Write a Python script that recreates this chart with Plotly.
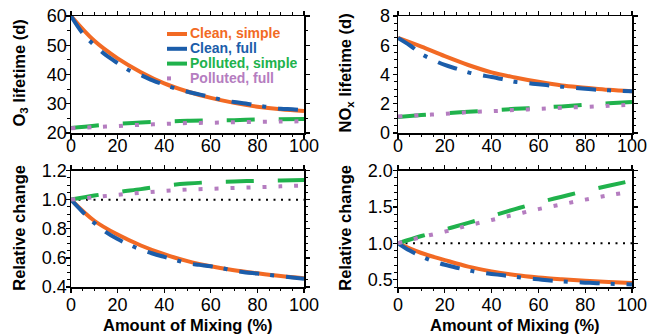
import plotly.graph_objects as go

# ---------------- data ----------------
mix = [0, 10, 20, 30, 40, 50, 60, 70, 80, 90, 100]
mix_fine = [0, 5, 10, 15, 20, 25, 30, 35, 40, 45, 50, 55, 60, 65, 70, 75, 80, 85, 90, 95, 100]

o3_clean_simple = [60, 51.5, 45.5, 40.8, 37.0, 34.2, 32.0, 30.3, 29.0, 28.1, 27.5]
o3_clean_full = [60, 54.1, 50.0, 46.6, 43.9, 41.4, 39.8, 38.0, 36.5, 35.2, 34.1,
                 33.2, 32.3, 31.3, 30.6, 30.1, 29.4, 28.8, 28.3, 28.1, 27.8]
o3_poll_simple = [21.7, 22.5, 23.1, 23.6, 23.9, 24.2, 24.3, 24.4, 24.6, 24.7, 24.8]
o3_poll_full = [21.6, 22.0, 22.4, 22.8, 23.1, 23.4, 23.5, 23.7, 23.8, 23.9, 24.0]

nox_clean_simple = [6.5, 5.9, 5.25, 4.65, 4.15, 3.8, 3.5, 3.25, 3.1, 2.95, 2.85]
nox_clean_full = [6.5, 6.0, 5.4, 5.0, 4.65, 4.4, 4.15, 3.97, 3.83, 3.67, 3.5,
                  3.42, 3.33, 3.25, 3.17, 3.09, 3.02, 2.96, 2.92, 2.88, 2.85]
nox_poll_simple = [1.1, 1.23, 1.35, 1.45, 1.55, 1.65, 1.73, 1.82, 1.93, 2.03, 2.12]
nox_poll_full = [1.12, 1.22, 1.31, 1.42, 1.49, 1.57, 1.65, 1.73, 1.78, 1.86, 1.93]

rel_o3_clean_simple = [1, 0.855, 0.76, 0.685, 0.625, 0.578, 0.543, 0.515, 0.494, 0.475, 0.46]
rel_o3_clean_full = [1, 0.915, 0.84, 0.777, 0.729, 0.69, 0.657, 0.63, 0.607, 0.585, 0.563,
                     0.552, 0.542, 0.528, 0.512, 0.5, 0.493, 0.484, 0.474, 0.465, 0.457]
rel_o3_poll_simple = [1.0, 1.028, 1.052, 1.072, 1.095, 1.11, 1.12, 1.125, 1.129, 1.131, 1.134]
rel_o3_poll_full = [1.0, 1.017, 1.033, 1.047, 1.059, 1.069, 1.074, 1.08, 1.085, 1.091, 1.097]

rel_nox_clean_simple = [1, 0.867, 0.77, 0.68, 0.615, 0.565, 0.53, 0.505, 0.485, 0.468, 0.455]
rel_nox_clean_full = [1, 0.9, 0.82, 0.755, 0.705, 0.665, 0.63, 0.6, 0.58, 0.56, 0.54,
                      0.52, 0.505, 0.49, 0.478, 0.468, 0.46, 0.452, 0.445, 0.44, 0.436]
rel_nox_poll_simple = [1.0, 1.10, 1.19, 1.28, 1.375, 1.47, 1.56, 1.64, 1.72, 1.79, 1.86]
rel_nox_poll_full = [1.0, 1.085, 1.16, 1.245, 1.32, 1.395, 1.47, 1.535, 1.60, 1.66, 1.71]

series_names = ["Clean, simple", "Clean, full", "Polluted, simple", "Polluted, full"]
colors = ["#F26A24", "#1B5DAA", "#20B24C", "#B57DC0"]
dashes = ["solid", "20px,11px,4px,12px", "28px,24px", "4px,12px"]

y_titles = ["O<sub>3</sub> lifetime (d)", "NO<sub>x</sub> lifetime (d)", "Relative change", "Relative change"]
x_title = "Amount of Mixing (%)"

FONT = "Liberation Sans, Arial, Helvetica, sans-serif"
W, H = 652, 335


def px_x(v):
    return v / W


def px_y(v):
    return 1 - v / H


panels = [
    (mix, o3_clean_simple, mix_fine, o3_clean_full, mix, o3_poll_simple, mix, o3_poll_full),
    (mix, nox_clean_simple, mix_fine, nox_clean_full, mix, nox_poll_simple, mix, nox_poll_full),
    (mix, rel_o3_clean_simple, mix_fine, rel_o3_clean_full, mix, rel_o3_poll_simple, mix, rel_o3_poll_full),
    (mix, rel_nox_clean_simple, mix_fine, rel_nox_clean_full, mix, rel_nox_poll_simple, mix, rel_nox_poll_full),
]
y_ranges = [[20, 60], [0, 8], [0.4, 1.2], [0.4, 2.0]]
y_dticks = [10, 2, 0.2, 0.5]
y_minor = [5, 0.5, 0.05, 0.1]
y_formats = ["", "", ".1f", ".1f"]
x_label_standoff = [-8, -8, -3, -3]
y_label_standoff = [-5, -1, -5, -4]

# pixel boxes of the four plot areas (left, right, top, bottom) in window pixels
boxes = [(71, 304, 16, 133), (398, 632, 16, 133), (71, 304, 170.5, 287), (398, 632, 170.5, 287)]
ytitle_x = [19, 345, 19, 345]

fig = go.Figure()

for i, p in enumerate(panels):
    xa = "x" if i == 0 else f"x{i+1}"
    ya = "y" if i == 0 else f"y{i+1}"
    for k in range(4):
        xs, ys = p[2 * k], p[2 * k + 1]
        fig.add_trace(go.Scatter(
            x=xs, y=ys, mode="lines", name=series_names[k], showlegend=False,
            line=dict(color=colors[k], width=4, dash=dashes[k], shape="spline", smoothing=1),
            xaxis=xa, yaxis=ya, hoverinfo="skip"))

axis_common = dict(showline=True, linecolor="black", linewidth=1.5, showgrid=False,
                   zeroline=False, ticks="outside", ticklen=4, tickwidth=1.3, tickcolor="black",
                   mirror="allticks", automargin=False, ticklabeloverflow="allow",
                   tickfont=dict(family=FONT, size=18, color="black"))
overlay_common = dict(showline=False, showgrid=False, zeroline=False, ticks="inside", ticklen=4,
                      tickwidth=1.3, tickcolor="black", mirror="allticks", showticklabels=False)

layout = dict(width=W, height=H, margin=dict(l=0, r=0, t=0, b=0),
              plot_bgcolor="white", paper_bgcolor="white", showlegend=False,
              font=dict(family=FONT, color="black"))

shapes = []
annotations = []
for i, (l, r, t, b) in enumerate(boxes):
    n = "" if i == 0 else str(i + 1)
    dom_x = [px_x(l), px_x(r)]
    dom_y = [px_y(b), px_y(t)]
    xa = dict(axis_common, domain=dom_x, range=[0, 100], dtick=20, anchor=f"y{n}",
              ticklabelstandoff=x_label_standoff[i],
              minor=dict(dtick=5, ticks="outside", ticklen=2.5, tickwidth=1, tickcolor="black"))
    ya = dict(axis_common, domain=dom_y, range=y_ranges[i], dtick=y_dticks[i], anchor=f"x{n}",
              tickformat=y_formats[i], ticklabelstandoff=y_label_standoff[i],
              minor=dict(dtick=y_minor[i], ticks="outside", ticklen=2.5, tickwidth=1, tickcolor="black"))
    layout[f"xaxis{n}"] = xa
    layout[f"yaxis{n}"] = ya
    m = str(i + 5)
    layout[f"xaxis{m}"] = dict(overlay_common, overlaying=f"x{n}", anchor=f"y{n}", range=[0, 100], dtick=20,
                               minor=dict(dtick=5, ticks="inside", ticklen=2.5, tickwidth=1, tickcolor="black"))
    layout[f"yaxis{m}"] = dict(overlay_common, overlaying=f"y{n}", anchor=f"x{n}", range=y_ranges[i],
                               dtick=y_dticks[i],
                               minor=dict(dtick=y_minor[i], ticks="inside", ticklen=2.5, tickwidth=1, tickcolor="black"))
    # axis titles
    annotations.append(dict(xref="paper", yref="paper", x=px_x(ytitle_x[i]), y=px_y((t + b) / 2 - 1),
                            xanchor="center", yanchor="middle", showarrow=False, textangle=-90,
                            text=f"<b>{y_titles[i]}</b>", font=dict(family=FONT, size=16.5, color="black")))
    if i >= 2:
        annotations.append(dict(xref="paper", yref="paper", x=px_x((l + r) / 2), y=px_y(325),
                                xanchor="center", yanchor="middle", showarrow=False, borderpad=0,
                                text=f"<b>{x_title}</b>", font=dict(family=FONT, size=16.5, color="black")))
        shapes.append(dict(type="line", xref=f"x{n}", yref=f"y{n}", x0=0, x1=100, y0=1, y1=1,
                           line=dict(color="black", width=2, dash="2px,5.5px"), layer="below"))

# custom legend (inside top-left panel)
leg_x0, leg_text_x, leg_top, leg_step = 167, 189, 34, 14.8
for k, name in enumerate(series_names):
    yc = leg_top + k * leg_step
    annotations.append(dict(xref="paper", yref="paper", x=px_x(leg_text_x), y=px_y(yc),
                            xanchor="left", yanchor="middle", showarrow=False, borderpad=0,
                            height=14.6, valign="middle",
                            text=f"<b>{name}</b>", font=dict(family=FONT, size=14, color=colors[k])))
    x_end = leg_text_x - 2 if k < 3 else leg_x0 + 4
    shapes.append(dict(type="line", xref="paper", yref="paper", x0=px_x(leg_x0), x1=px_x(x_end),
                       y0=px_y(yc), y1=px_y(yc), line=dict(color=colors[k], width=4)))

layout["shapes"] = shapes
layout["annotations"] = annotations
fig.update_layout(**layout)
fig.write_html("out.html",
               config={"displayModeBar": False, "staticPlot": True},
               post_script="document.body.style.margin='0px';document.body.style.overflow='hidden';")
